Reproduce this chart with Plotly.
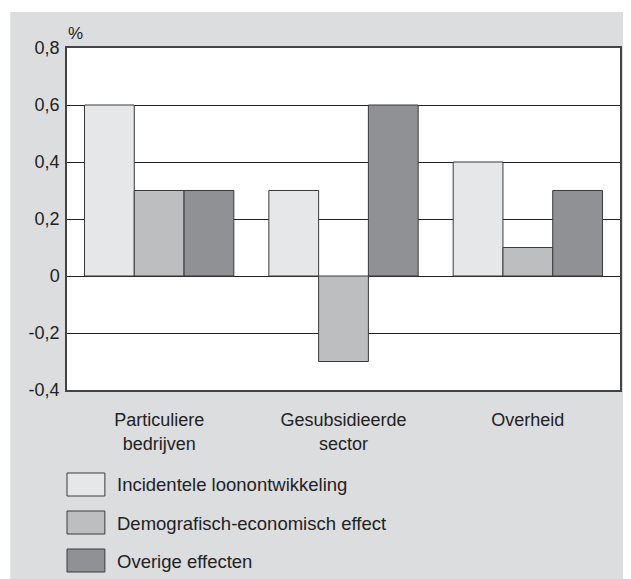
import plotly.graph_objects as go

categories = ["Particuliere<br>bedrijven", "Gesubsidieerde<br>sector", "Overheid"]
series_names = ["Incidentele loonontwikkeling", "Demografisch-economisch effect", "Overige effecten"]
incidenteel = [0.6, 0.3, 0.4]
demografisch = [0.3, -0.3, 0.1]
overig = [0.3, 0.6, 0.3]
tick_vals = [-0.4, -0.2, 0, 0.2, 0.4, 0.6, 0.8]
tick_text = ["-0,4", "-0,2", "0", "0,2", "0,4", "0,6", "0,8"]

colors = ["#e6e7e9", "#bdbec0", "#909194"]
series_values = [incidenteel, demografisch, overig]

# page body has an 8px margin, so the figure is a bit smaller than the window
OFF = 8
W, H = 631 - OFF, 579 - OFF
ML, MR, MT, MB = 59, 9, 40, 189
PW = W - ML - MR
PH = H - MT - MB


# window pixel -> paper coords
def px_x(x):
    return (x - OFF - ML) / PW


def px_y(y):
    return (H - MB - (y - OFF)) / PH


fig = go.Figure()
for name, vals, col in zip(series_names, series_values, colors):
    fig.add_trace(go.Bar(
        x=categories,
        y=vals,
        name=name,
        marker=dict(color=col, line=dict(color="#3a3a3a", width=1)),
        showlegend=False,
    ))

white = dict(type="rect", xref="paper", yref="paper", fillcolor="white",
             line=dict(width=0), layer="below")
shapes = [
    dict(white, x0=px_x(0), x1=px_x(W + 20), y0=px_y(12), y1=px_y(0)),
    dict(white, x0=px_x(0), x1=px_x(10), y0=px_y(H + 20), y1=px_y(0)),
]
annotations = [
    dict(text="%", xref="paper", yref="paper", x=px_x(66), y=px_y(33),
         xanchor="left", yanchor="middle", showarrow=False,
         font=dict(size=17, color="#222")),
]

# hand-drawn legend with big swatches
box_tops = [473, 511, 549]
for name, col, top in zip(series_names, colors, box_tops):
    shapes.append(dict(type="rect", xref="paper", yref="paper",
                       x0=px_x(67), x1=px_x(105), y0=px_y(top + 23), y1=px_y(top),
                       fillcolor=col, line=dict(color="#3a3a3a", width=1)))
    annotations.append(dict(text=name, xref="paper", yref="paper",
                            x=px_x(115), y=px_y(top + 12), xanchor="left", yanchor="middle",
                            showarrow=False, font=dict(size=18.5, color="#222")))

fig.update_layout(
    width=W, height=H,
    margin=dict(l=ML, r=MR, t=MT, b=MB),
    paper_bgcolor="#dcdddf",
    plot_bgcolor="white",
    font=dict(family="Liberation Sans, Arial, sans-serif", size=18, color="#222"),
    barmode="group",
    bargap=0.19,
    bargroupgap=0,
    shapes=shapes,
    annotations=annotations,
    xaxis=dict(
        showgrid=False, ticks="", showline=True, linecolor="#444", linewidth=1.5,
        mirror=True, ticklabelstandoff=13, fixedrange=True,
    ),
    yaxis=dict(
        range=[-0.4, 0.8], tickvals=tick_vals, ticktext=tick_text,
        showgrid=True, gridcolor="#222", gridwidth=1,
        zeroline=True, zerolinecolor="#222", zerolinewidth=1,
        showline=True, linecolor="#444", linewidth=1.5, mirror=True,
        ticks="", ticklabelstandoff=2, fixedrange=True,
    ),
)

fig.write_html("out.html")
